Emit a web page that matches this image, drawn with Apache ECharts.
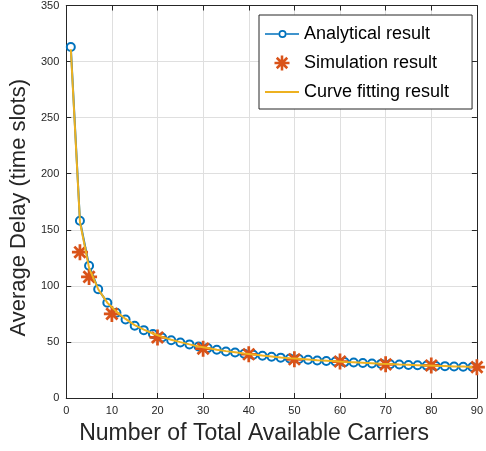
<!DOCTYPE html>
<html>
<head>
<meta charset="utf-8">
<script src="https://cdn.jsdelivr.net/npm/echarts@6/dist/echarts.min.js"></script>
<style>html,body{margin:0;padding:0;background:#fff;}#c{width:486px;height:451px;}</style>
</head>
<body>
<div id="c"></div>
<script>
// ---- data ----
const analyticalX = [1,3,5,7,9,11,13,15,17,19,21,23,25,27,29,31,33,35,37,39,41,43,45,47,49,51,53,55,57,59,61,63,65,67,69,71,73,75,77,79,81,83,85,87,89];
const analyticalY = [313,158,118,97,85,76,70,64.5,60.5,57,54,51.5,49.5,47.8,46,44.5,43,41.5,40.5,39.5,38.5,37.6,36.8,36,35.3,34.7,34.1,33.5,33,32.5,32,31.6,31.2,30.8,30.4,30.1,29.8,29.5,29.2,28.9,28.6,28.4,28.1,27.9,27.7];
const simulationX = [3,5,10,20,30,40,50,60,70,80,90];
const simulationY = [130,108,75,54,44,39,34.5,32.5,30,29,27.5];
const fitX = analyticalX;
const fitY = [311,157,116,97,85,77,70.5,65,61,57.5,54.5,52,49.8,47.8,46,44.5,43.1,41.8,40.7,39.6,38.7,37.8,37,36.2,35.5,34.9,34.3,33.7,33.2,32.7,32.2,31.8,31.4,31,30.6,30.3,29.9,29.6,29.3,29,28.7,28.5,28.2,28,27.7];
const xTicks = {min: 0, max: 90, interval: 10};
const yTicks = {min: 0, max: 350, interval: 50};

const pairs = (xs, ys) => xs.map((x, i) => [x, ys[i]]);
const AX = '#262626';
const FONT = 'Liberation Sans, Arial, Helvetica, sans-serif';
// filled 8-arm asterisk
const asterisk = 'path://M0,8.3L20,8.3L20,11.7L0,11.7Z M8.3,0L11.7,0L11.7,20L8.3,20Z ' +
  'M4.2,1.8L18.2,15.8L15.8,18.2L1.8,4.2Z M18.2,4.2L4.2,18.2L1.8,15.8L15.8,1.8Z';
// legend icons: line with hollow circle, plain line
const iconAnalytical = 'path://M0,10.2L13.5,10.2L13.5,11.8L0,11.8Z M21.5,10.2L34,10.2L34,11.8L21.5,11.8Z ' +
  'M21.5,11 A4,4 0 1 0 13.5,11 A4,4 0 1 0 21.5,11 Z M19.8,11 A2.3,2.3 0 1 1 15.2,11 A2.3,2.3 0 1 1 19.8,11 Z';
const iconLine = 'path://M0,0L34,0L34,2L0,2Z';

const chart = echarts.init(document.getElementById('c'), null, {renderer: 'canvas'});
const baseX = {
  type: 'value', min: xTicks.min, max: xTicks.max, interval: xTicks.interval,
  axisLine: {onZero: false, lineStyle: {color: AX, width: 1}},
  axisTick: {inside: true, length: 5, lineStyle: {color: AX}},
};
const baseY = {
  type: 'value', min: yTicks.min, max: yTicks.max, interval: yTicks.interval,
  axisLine: {show: true, onZero: false, lineStyle: {color: AX, width: 1}},
  axisTick: {show: true, inside: true, length: 5, lineStyle: {color: AX}},
};
chart.setOption({
  animation: false,
  backgroundColor: '#fff',
  textStyle: {fontFamily: FONT},
  grid: {left: 58, top: 4, width: 425, height: 394, containLabel: false},
  xAxis: [
    Object.assign({}, baseX, {
      position: 'bottom',
      name: 'Number of Total Available Carriers',
      nameLocation: 'middle', nameGap: 24,
      nameTextStyle: {fontSize: 23, color: AX, fontFamily: FONT, padding: [0, 35, 0, 0]},
      axisLabel: {fontSize: 11, color: AX, margin: 7, fontFamily: FONT},
      splitLine: {show: true, lineStyle: {color: '#dfdfdf', width: 1}}
    }),
    Object.assign({}, baseX, {
      position: 'top', axisLabel: {show: false}, splitLine: {show: false}
    })
  ],
  yAxis: [
    Object.assign({}, baseY, {
      position: 'left',
      name: 'Average Delay (time slots)',
      nameLocation: 'middle', nameGap: 30,
      nameTextStyle: {fontSize: 22, color: AX, fontFamily: FONT, padding: [0, 12, 0, 0]},
      axisLabel: {fontSize: 11, color: AX, margin: 7, fontFamily: FONT},
      splitLine: {show: true, lineStyle: {color: '#dfdfdf', width: 1}}
    }),
    Object.assign({}, baseY, {
      position: 'right', axisLabel: {show: false}, splitLine: {show: false}
    })
  ],
  legend: {
    orient: 'vertical', left: 259, top: 15, z: 10,
    padding: [10, 23, 8, 6], itemGap: 11, itemWidth: 34, itemHeight: 15,
    symbolKeepAspect: true,
    backgroundColor: '#fff', borderColor: AX, borderWidth: 1, borderRadius: 0,
    textStyle: {fontSize: 18, color: '#000', fontFamily: FONT},
    data: [
      {name: 'Analytical result', icon: iconAnalytical, itemStyle: {color: '#0072BD', borderWidth: 0}},
      {name: 'Simulation result', icon: asterisk, itemStyle: {color: '#D95319', borderWidth: 0}},
      {name: 'Curve fitting result', icon: iconLine, itemStyle: {color: '#EDB120', borderWidth: 0}}
    ]
  },
  series: [
    {
      name: 'Analytical result', type: 'line', data: pairs(analyticalX, analyticalY), z: 2,
      symbol: 'emptyCircle', symbolSize: 8, showAllSymbol: true,
      lineStyle: {color: '#0072BD', width: 2},
      itemStyle: {color: '#0072BD', borderColor: '#0072BD', borderWidth: 2}
    },
    {
      name: 'Simulation result', type: 'scatter', data: pairs(simulationX, simulationY), z: 3,
      symbol: asterisk, symbolSize: 16,
      itemStyle: {color: '#D95319', borderWidth: 0, opacity: 1}
    },
    {
      name: 'Curve fitting result', type: 'line', data: pairs(fitX, fitY), z: 4,
      symbol: 'none', smooth: false,
      lineStyle: {color: '#EDB120', width: 2},
      itemStyle: {color: '#EDB120'}
    }
  ]
});
</script>
</body>
</html>
